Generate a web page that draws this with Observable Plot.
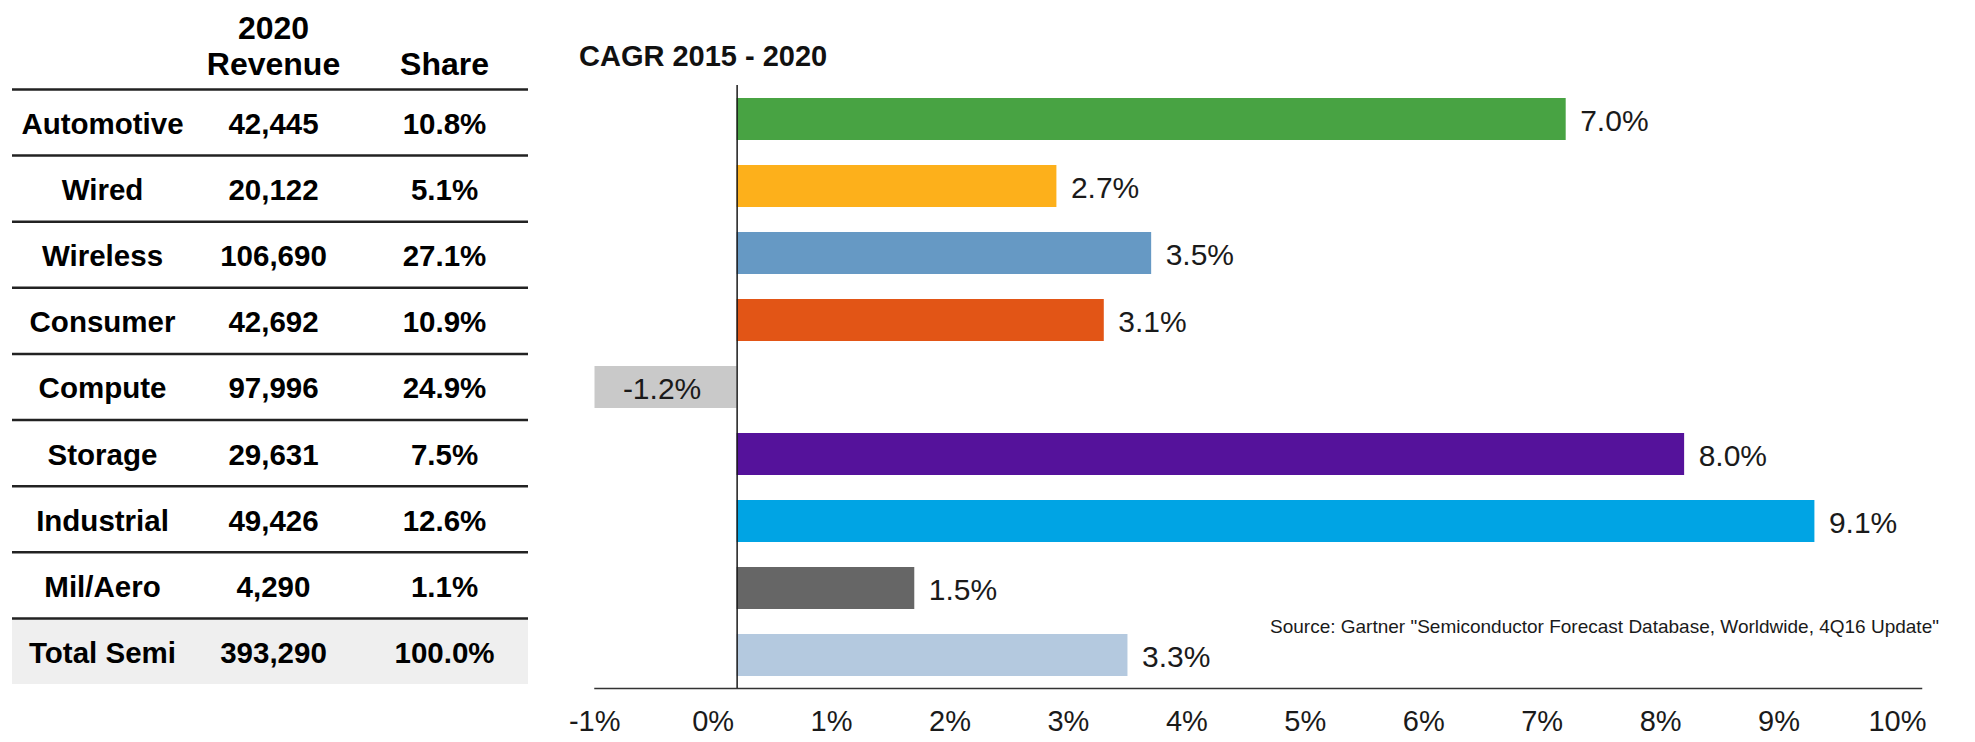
<!DOCTYPE html>
<html><head><meta charset="utf-8">
<script src="https://cdn.jsdelivr.net/npm/d3@7"></script>
<script src="https://cdn.jsdelivr.net/npm/@observablehq/plot@0.6"></script>
<style>
body{margin:0;background:#fff;}
#wrap{position:relative;width:1975px;height:742px;overflow:hidden;font-family:"Liberation Sans",Arial,sans-serif;background:#fff}
#table{position:absolute;left:0;top:0}
#chart{position:absolute;left:540px;top:0}
#title{position:absolute;left:579px;top:42px;font-size:29px;font-weight:bold;line-height:29px;color:#111;white-space:nowrap}
#source{position:absolute;left:1270px;top:617px;font-size:19px;line-height:19px;color:#1a1a1a;white-space:nowrap}
#table svg [aria-label="x-axis tick label"]{font-weight:bold}
</style></head><body>
<div id="wrap">
<div id="table"></div><div id="chart"></div>
<div id="title">CAGR 2015 - 2020</div>
<div id="source">Source: Gartner "Semiconductor Forecast Database, Worldwide, 4Q16 Update"</div>
</div>
<script>
// ---- data ----
const categories = ["Automotive","Wired","Wireless","Consumer","Compute","Storage","Industrial","Mil/Aero","Total Semi"];
const revenue2020 = [42445,20122,106690,42692,97996,29631,49426,4290,393290];
const share2020 = [10.8,5.1,27.1,10.9,24.9,7.5,12.6,1.1,100.0];
const cagr = [7.0,2.7,3.5,3.1,-1.2,8.0,9.1,1.5,3.3];
const tableColumns = ["label","revenue","share"];
const tableHeaders = ["","2020\nRevenue","Share"];
const xTicks = [-1,0,1,2,3,4,5,6,7,8,9,10];
const totalCategory = "Total Semi";

// ---- styles ----
const barColors = ["#48a343","#fdb01b","#6699c4","#e25516","#c9c9c9","#55129b","#00a4e4","#666666","#b4c9df"];
const FONT = '"Liberation Sans", Arial, sans-serif';

// ---- table ----
const rows = categories.map((c,i)=>({category:c, revenue:revenue2020[i], share:share2020[i], row:i}));
const fmtRev = d3.format(",");
const cellStyle = {fontSize:29.5, fontWeight:"bold", fill:"#000", dy:2};
const table = Plot.plot({
  width:540, height:700, marginLeft:12, marginRight:12, marginTop:89, marginBottom:16,
  style:{fontFamily:FONT, background:"transparent", overflow:"visible"},
  x:{type:"point", domain:tableColumns, range:[101,444], padding:0, label:null},
  y:{domain:[0,categories.length], range:[89,684], axis:null},
  marks:[
    Plot.rect(rows.filter(d=>d.category===totalCategory), {y1:"row", y2:d=>d.row+1, fill:"#efefef"}),
    Plot.ruleY(rows, {y:"row", stroke:"#222", strokeWidth:2.5}),
    Plot.text(rows, {x:()=>"label", y:d=>d.row+0.5, text:"category", ...cellStyle}),
    Plot.text(rows, {x:()=>"revenue", y:d=>d.row+0.5, text:d=>fmtRev(d.revenue), ...cellStyle}),
    Plot.text(rows, {x:()=>"share", y:d=>d.row+0.5, text:d=>d.share.toFixed(1)+"%", ...cellStyle}),
    Plot.axisX({anchor:"top", label:null, tickSize:0, tickPadding:15, tickFormat:d=>tableHeaders[tableColumns.indexOf(d)],
      fontSize:32, fontWeight:"bold", lineHeight:1.115, fill:"#000"})
  ]
});
document.getElementById("table").append(table);

// ---- chart ----
const bars = categories.map((c,i)=>({category:c, value:cagr[i]}));
const pct = d=>d.value.toFixed(1)+"%";
const chart = Plot.plot({
  width:1435, height:742, marginLeft:54.5, marginRight:54, marginTop:85, marginBottom:54,
  style:{fontFamily:FONT, fontSize:"29px", background:"transparent", overflow:"visible"},
  x:{domain:[-1.2,10], label:null},
  y:{domain:categories, paddingInner:0.374, paddingOuter:0.187, axis:null},
  color:{domain:categories, range:barColors},
  marks:[
    Plot.barX(bars, {x:"value", y:"category", fill:"category"}),
    Plot.ruleX([0], {stroke:"#1a1a1a", strokeWidth:1.5}),
    Plot.frame({anchor:"bottom", stroke:"#333", strokeWidth:1.5}),
    Plot.text(bars.filter(d=>d.value>=0), {x:"value", y:"category", text:pct, textAnchor:"start", dx:14, dy:2, fontSize:30, fill:"#1a1a1a"}),
    Plot.text(bars.filter(d=>d.value<0), {x:d=>d.value/2, y:"category", text:pct, textAnchor:"middle", dx:-4, dy:2, fontSize:30, fill:"#1a1a1a"}),
    Plot.axisX({ticks:xTicks, label:null, tickSize:0, tickPadding:22, tickFormat:d=>d+"%", fontSize:29, dx:-24, fill:"#1a1a1a"})
  ]
});
document.getElementById("chart").append(chart);
</script>
</body></html>
